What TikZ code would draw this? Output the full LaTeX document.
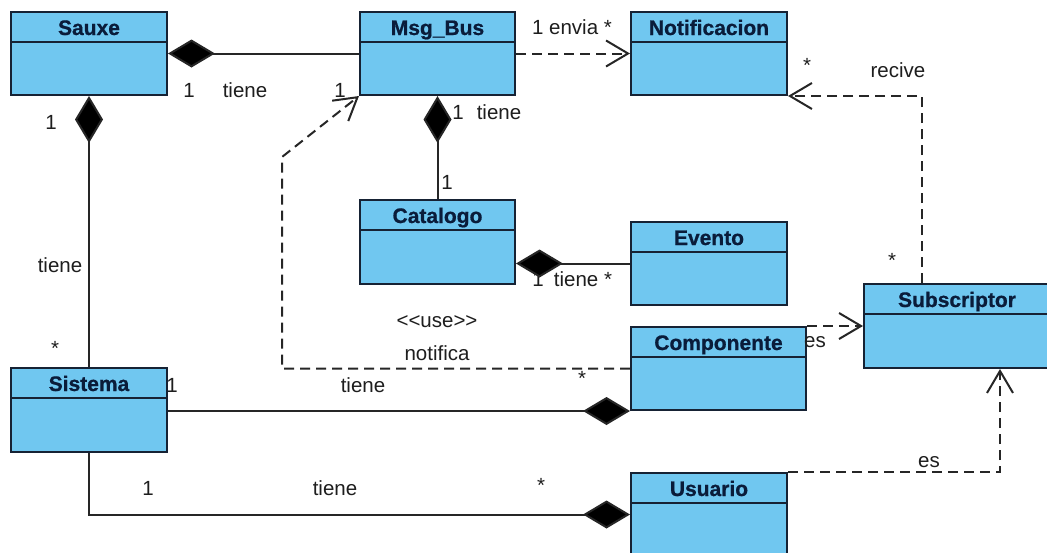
\documentclass[tikz,border=0pt]{standalone}
\usepackage{fontspec}
\setmainfont{Liberation Sans}
\usetikzlibrary{arrows.meta}

\definecolor{clsfill}{RGB}{112,199,240}
\definecolor{clsline}{RGB}{22,34,52}
\definecolor{clstext}{RGB}{10,28,58}
\definecolor{lbl}{RGB}{30,30,30}

% class box: name, x, y, width, height, title
\newcommand\umlclass[6]{%
  \node[cls, minimum width=#4pt, minimum height=#5pt] (#1) at (#2,#3) {};
  \draw[clsline, line width=2pt] ([yshift=-31pt]#1.north west) -- ([yshift=-31pt]#1.north east);
  \node[ttl, anchor=base] at ([yshift=-24pt]#1.north) {#6};
}

\begin{document}
\begin{tikzpicture}[x=1pt,y=-1pt,
  cls/.style={draw=clsline, fill=clsfill, line width=2pt, anchor=north west, inner sep=0pt},
  ttl/.style={font=\fontsize{21}{24}\selectfont\bfseries\addfontfeature{FakeBold=0.8},
              text=clstext, inner sep=0pt},
  lab/.style={font=\fontsize{20.5}{24}\selectfont, text=lbl, inner sep=0pt},
  assoc/.style={line width=2pt, draw=black!85},
  comp/.style={assoc, {Diamond[length=47pt,width=28pt,fill=black]}-},
  dep/.style={line width=2pt, draw=black!85, dash pattern=on 10pt off 6pt,
              -{Straight Barb[length=22pt,width=26pt]}}
]
\useasboundingbox (0,0) rectangle (1047,552);
\fill[white] (0,0) rectangle (1047,552);

% classes
\umlclass{sauxe}{10}{11}{156}{83}{Sauxe}
\umlclass{msgbus}{359}{11}{155}{83}{Msg\_Bus}
\umlclass{notificacion}{630}{11}{156}{83}{Notificacion}
\umlclass{catalogo}{359}{199}{155}{84}{Catalogo}
\umlclass{evento}{630}{221}{156}{83}{Evento}
\umlclass{componente}{630}{326}{175}{83}{Componente}
\umlclass{subscriptor}{863}{283}{186}{84}{Subscriptor}
\umlclass{usuario}{630}{472}{156}{83}{Usuario}
\umlclass{sistema}{10}{367}{156}{84}{Sistema}

% multiplicity partly covered by the diamond
\node[lab] (l1) at (538,279) {1};

% compositions
\draw[comp] (sauxe.east) -- (msgbus.west);
\draw[comp] (sauxe.south) -- (sistema.north);
\draw[comp] (msgbus.south) -- (catalogo.north);
\draw[comp] (evento.west -| catalogo.east) -- (evento.west);
\draw[comp] (componente.south west) -- (componente.south west -| sistema.east);
\draw[comp] (usuario.west) -| (sistema.south);

% dependencies
\coordinate (bend) at (282,157);
\draw[dep] (msgbus.east) -- (notificacion.west);
\draw[dep] ([xshift=-35pt]subscriptor.north) |- (notificacion.south east);
\draw[dep] (componente.north east) -- (componente.north east -| subscriptor.west);
\draw[dep] (usuario.north east) -| ([xshift=43pt]subscriptor.south);
\draw[dep] (componente.west) -- (componente.west -| bend) -- (bend) -- (msgbus.south west);

% multiplicities and roles
\node[lab] at (189,90) {1};
\node[lab] at (245,90) {tiene};
\node[lab] at (340,90) {1};
\node[lab] at (51,122) {1};
\node[lab] at (60,265) {tiene};
\node[lab] at (55,348) {*};
\node[lab] at (572,27) {1 envia *};
\node[lab] at (458,112) {1};
\node[lab] at (499,112) {tiene};
\node[lab] at (447,182) {1};
\node[lab] at (583,279) {tiene *};
\node[lab] at (437,322) {{<}{<}use{>}{>}};
\node[lab] at (437,353) {notifica};
\node[lab] at (807,65) {*};
\node[lab] at (898,70) {recive};
\node[lab] at (892,260) {*};
\node[lab] at (815,342) {es};
\node[lab] at (929,462) {es};
\node[lab] at (172,385) {1};
\node[lab] at (363,385) {tiene};
\node[lab] at (582,378) {*};
\node[lab] at (148,488) {1};
\node[lab] at (335,488) {tiene};
\node[lab] at (541,485) {*};
\end{tikzpicture}
\end{document}
